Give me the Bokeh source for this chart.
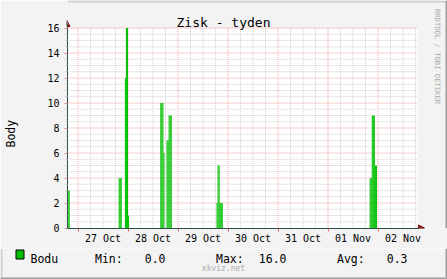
import numpy as np
from bokeh.plotting import figure
from bokeh.layouts import column
from bokeh.models import (Range1d, FixedTicker, Label, Arrow, NormalHead, BoxAnnotation,
                          Title, LinearAxis)
from bokeh.embed import file_html
from bokeh.resources import INLINE

# ---- data (x = hours since 26 Oct 00:00, 30-minute slots) ----
slot_start = [19.0, 19.5,
              43.5, 44.0, 44.5,
              46.5, 47.0, 47.5, 48.0,
              63.5, 64.0, 64.5, 65.0, 66.5, 67.0, 67.5, 68.0, 68.5,
              90.5, 91.0, 91.5, 92.0, 92.5, 93.0,
              164.0, 164.5, 165.0, 165.5, 166.0, 166.5, 167.0]
slot_value = [3, 3,
              4, 4, 4,
              12, 16, 16, 1,
              10, 10, 10, 6, 7, 7, 9, 9, 9,
              2, 5, 5, 2, 2, 2,
              4, 4, 9, 9, 9, 5, 5]
step = 0.5

day_ticks = [36, 60, 84, 108, 132, 156, 180]
day_labels = ["27 Oct", "28 Oct", "29 Oct", "30 Oct", "31 Oct", "01 Nov", "02 Nov"]
midnights = [24, 48, 72, 96, 120, 144, 168]
six_hours = [h for h in range(24, 187, 6) if h % 24 != 0]
y_major = [0, 2, 4, 6, 8, 10, 12, 14, 16]
y_minor = [i * 0.5 for i in range(0, 33) if i % 4 != 0]

series_name = "Bodu"
stat_names = ["Min:", "Max:", "Avg:"]
stat_values = [0.0, 16.0, 0.3]

title_text = "Zisk - tyden"
y_label = "Body"
watermark = "RRDTOOL / TOBI OETIKER"
footer = "xkviz.net"

# ---- layout helpers (pixel -> data) ----
PX0, X0, HPP = 67, 18.96, 0.48
PY0, UPP = 227.5, 1 / 12.5


def sx(px):
    return X0 + (px - PX0) * HPP


def sy(py):
    return (PY0 - py) * UPP


FONT = "DejaVu Sans Mono"
GREEN = "#00C000"
AXIS = "#2C4D43"
ARROW = "#8B1A1A"
BACK = "#F3F3F3"
MGRID = "#F4A0A0"
GRID = "#CFCFCF"
SHADE_A = "#CFCFCF"
SHADE_B = "#9E9E9E"

MAIN_H = 248
W = 447

p = figure(width=W, height=MAIN_H, output_backend="svg", toolbar_location=None,
           x_range=Range1d(sx(67), sx(W)), y_range=Range1d(sy(228), sy(0)),
           min_border_left=67, min_border_right=0, min_border_top=0,
           min_border_bottom=MAIN_H - 228)
p.border_fill_color = BACK
p.background_fill_color = BACK
p.outline_line_color = None
p.grid.visible = False

# white canvas
p.add_layout(BoxAnnotation(left=sx(67), right=sx(417), bottom=sy(228), top=sy(28),
                           fill_color="white", fill_alpha=1, line_color=None, level="image"))

# grid lines
x_lo, x_hi = sx(67), sx(417)
p.segment(x0=[x_lo] * len(y_minor), x1=[x_hi] * len(y_minor), y0=y_minor, y1=y_minor,
          line_color=GRID, line_width=1, line_dash="1 1")
p.segment(x0=six_hours, x1=six_hours, y0=[0] * len(six_hours), y1=[16] * len(six_hours),
          line_color=GRID, line_width=1, line_dash="1 1")
p.segment(x0=[x_lo] * (len(y_major) - 1), x1=[x_hi] * (len(y_major) - 1),
          y0=y_major[1:], y1=y_major[1:],
          line_color=MGRID, line_width=1, line_dash="1 1")
p.segment(x0=midnights, x1=midnights, y0=[0] * len(midnights), y1=[16] * len(midnights),
          line_color=MGRID, line_width=1, line_dash="1 1")

# bars (area in 30 minute steps)
left = np.array(slot_start)
p.quad(left=left, right=left + step, bottom=0, top=slot_value,
       fill_color=GREEN, line_color=None)

# axes
p.xaxis.ticker = FixedTicker(ticks=day_ticks, minor_ticks=midnights)
p.xaxis.major_label_overrides = {t: lab for t, lab in zip(day_ticks, day_labels)}
p.xaxis.major_tick_line_color = None
p.xaxis.major_tick_out = 0
p.xaxis.major_tick_in = 0
p.xaxis.minor_tick_out = 3
p.xaxis.minor_tick_in = 0
p.xaxis.minor_tick_line_color = "#E07070"
p.xaxis.major_label_standoff = 1
p.xaxis.bounds = (sx(67), sx(418))

p.yaxis.ticker = FixedTicker(ticks=y_major, minor_ticks=y_minor)
p.yaxis.major_tick_out = 3
p.yaxis.major_tick_in = 0
p.yaxis.minor_tick_out = 2
p.yaxis.minor_tick_in = 0
p.yaxis.major_tick_line_color = "#E09090"
p.yaxis.minor_tick_line_color = "#C8C8C8"
p.yaxis.major_label_standoff = 5
p.yaxis.bounds = (sy(228), sy(24))
for ax in (p.xaxis, p.yaxis):
    ax.axis_line_color = AXIS
    ax.major_label_text_font = FONT
    ax.major_label_text_font_size = "10px"
    ax.major_label_text_color = "black"

# invisible spacer axis, then the unit label further out on the left
p.add_layout(LinearAxis(ticker=FixedTicker(ticks=[8]), major_label_overrides={8: ""},
                        axis_line_color=None,
                        major_tick_line_color=None, minor_tick_line_color=None,
                        major_tick_out=26, major_tick_in=0, minor_tick_out=0,
                        minor_tick_in=0, major_label_standoff=0,
                        major_label_text_font_size="1px"), "left")
p.add_layout(Title(text=y_label, align="left", offset=81, standoff=0,
                   vertical_align="middle",
                   text_font=FONT, text_font_size="11.5px", text_font_style="normal",
                   text_color="black"), "left")

# axis arrows
p.add_layout(Arrow(end=NormalHead(size=6, fill_color=ARROW, line_color=ARROW),
                   x_start=sx(417), y_start=sy(227.5), x_end=sx(424), y_end=sy(227.5),
                   line_color=AXIS, line_width=1))
p.add_layout(Arrow(end=NormalHead(size=6, fill_color=ARROW, line_color=ARROW),
                   x_start=sx(66.5), y_start=sy(26), x_end=sx(66.5), y_end=sy(20),
                   line_color=AXIS, line_width=1))

# title and watermark
p.add_layout(Label(x=sx(223), y=sy(22), text=title_text, text_font=FONT,
                   text_font_size="13px", text_align="center",
                   text_baseline="alphabetic", text_color="black"))
p.add_layout(Label(x=sx(437), y=sy(56), text=watermark, text_font=FONT,
                   text_font_size="7.2px", text_align="center",
                   text_baseline="middle", angle=-np.pi / 2, text_color="#ABABAB"))

# shaded frame edges
p.add_layout(BoxAnnotation(bottom=sy(2), fill_color=SHADE_A, fill_alpha=1,
                           line_color=None, level="overlay"))
p.add_layout(BoxAnnotation(left=sx(445), fill_color=SHADE_B, fill_alpha=1,
                           line_color=None, level="overlay"))

# ---- legend strip ----
LEG_H = 279 - MAIN_H
q = figure(width=W, height=LEG_H, output_backend="svg", toolbar_location=None,
           x_range=Range1d(0, W), y_range=Range1d(0, LEG_H),
           x_axis_type=None, y_axis_type=None,
           min_border_left=0, min_border_right=0, min_border_top=0, min_border_bottom=0)
q.border_fill_color = BACK
q.background_fill_color = BACK
q.outline_line_color = None
q.grid.visible = False

for f in (p, q):
    if "frame_align" in f.properties():
        f.frame_align = False


def ly(py):
    return 279 - py


q.quad(left=[15.5], right=[23.5], top=[ly(249.5)], bottom=[ly(258.5)],
       fill_color=GREEN, line_color="black", line_width=1)
q.add_layout(Label(x=30, y=ly(258), text=series_name, text_font=FONT,
                   text_font_size="11.5px", text_align="left",
                   text_baseline="alphabetic", text_color="black"))
name_px = [94.5, 215.5, 336.5]
val_px = [165, 286, 407]
for nm, v, npx, vpx in zip(stat_names, stat_values, name_px, val_px):
    q.add_layout(Label(x=npx, y=ly(258), text=nm, text_font=FONT,
                       text_font_size="11.5px", text_align="left",
                       text_baseline="alphabetic", text_color="black"))
    q.add_layout(Label(x=vpx, y=ly(258), text="%.1f" % v, text_font=FONT,
                       text_font_size="11.5px", text_align="right",
                       text_baseline="alphabetic", text_color="black"))
q.add_layout(Label(x=223, y=ly(268), text=footer, text_font=FONT,
                   text_font_size="8px", text_align="center",
                   text_baseline="middle", text_color="#ABABAB"))

q.add_layout(BoxAnnotation(right=2, fill_color=SHADE_A, fill_alpha=1,
                           line_color=None, level="overlay"))
q.add_layout(BoxAnnotation(top=2, fill_color=SHADE_B, fill_alpha=1,
                           line_color=None, level="overlay"))
q.add_layout(BoxAnnotation(left=445, fill_color=SHADE_B, fill_alpha=1,
                           line_color=None, level="overlay"))

layout = column(p, q, spacing=0)
open("out.html", "w").write(file_html(layout, INLINE))
